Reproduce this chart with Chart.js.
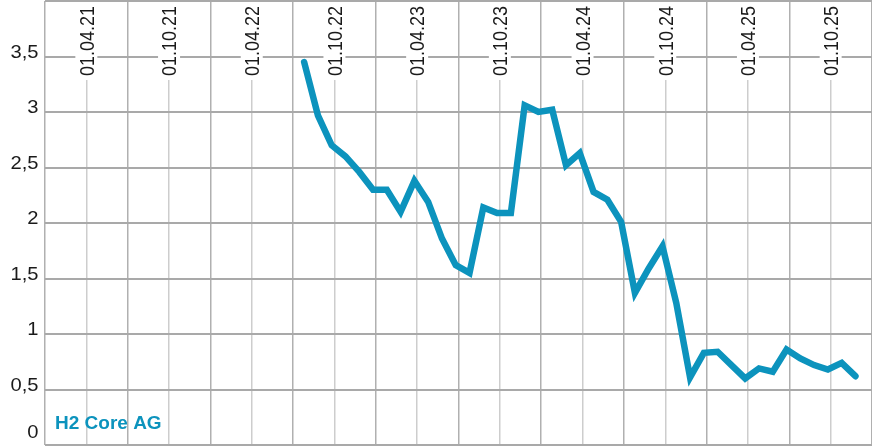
<!DOCTYPE html>
<html>
<head>
<meta charset="utf-8">
<script src="https://cdn.jsdelivr.net/npm/chart.js@4.4.1/dist/chart.umd.min.js"></script>
<style>
  body { margin: 0; background: #fff; }
  #wrap { width: 872px; height: 446px; position: relative; }
</style>
</head>
<body>
<div id="wrap"><canvas id="chart"></canvas></div>
<script>
// Monthly closing dates (dd.mm.yy)
const dates = [
    "25.07.22", "25.08.22", "25.09.22", "25.10.22", "25.11.22", "25.12.22",
    "25.01.23", "25.02.23", "25.03.23", "25.04.23", "25.05.23", "25.06.23",
    "25.07.23", "25.08.23", "25.09.23", "25.10.23", "25.11.23", "25.12.23",
    "25.01.24", "25.02.24", "25.03.24", "25.04.24", "25.05.24", "25.06.24",
    "25.07.24", "25.08.24", "25.09.24", "25.10.24", "25.11.24", "25.12.24",
    "25.01.25", "25.02.25", "25.03.25", "25.04.25", "25.05.25", "25.06.25",
    "25.07.25", "25.08.25", "25.09.25", "25.10.25", "25.11.25"
];
const prices = [
    3.45, 2.97, 2.70, 2.60, 2.46, 2.30,
    2.30, 2.10, 2.38, 2.19, 1.86, 1.62,
    1.55, 2.14, 2.09, 2.09, 3.06, 3.00,
    3.02, 2.52, 2.63, 2.28, 2.21, 2.01,
    1.37, 1.59, 1.79, 1.28, 0.61, 0.83,
    0.84, 0.72, 0.60, 0.69, 0.66, 0.86,
    0.78, 0.72, 0.68, 0.74, 0.62
];
const xTickLabels = ["01.04.21", "01.10.21", "01.04.22", "01.10.22", "01.04.23",
                     "01.10.23", "01.04.24", "01.10.24", "01.04.25", "01.10.25"];
const yTickLabels = ["0", "0,5", "1", "1,5", "2", "2,5", "3", "3,5"];
const seriesName = "H2 Core AG";

const BLUE = "#0c93bd";
const STRETCH = 1.12; // the original lettering is a bit wide

// months since 01.01.21
function toMonths(s) {
    let [d, m, y] = s.split(".").map(Number);
    return (y - 21) * 12 + (m - 1) + (d - 1) / 30;
}
function monthLabel(v) {
    let y = 21 + Math.floor(v / 12);
    let m = v % 12 + 1;
    return "01." + String(m).padStart(2, "0") + "." + y;
}

const points = dates.map((d, i) => ({ x: toMonths(d), y: prices[i] }));

const labelPlugin = {
    id: "labels",
    beforeDatasetsDraw(chart) {
        const ctx = chart.ctx;
        const xs = chart.scales.x;
        const ys = chart.scales.y;
        ctx.save();

        // date labels inside the plot, rotated
        ctx.font = "18px 'Liberation Sans', Arial, sans-serif";
        xs.ticks.forEach(t => {
            let lbl = monthLabel(t.value);
            if (!xTickLabels.includes(lbl)) return;
            let px = xs.getPixelForValue(t.value);
            ctx.fillStyle = "#fff";
            ctx.fillRect(px - 11, chart.chartArea.top + 1, 22, 78);
            ctx.fillStyle = "#1a1a1a";
            ctx.save();
            ctx.translate(px, 76);
            ctx.scale(STRETCH, 1);
            ctx.rotate(-Math.PI / 2);
            ctx.textAlign = "left";
            ctx.textBaseline = "alphabetic";
            ctx.fillText(lbl, 0, 6.5);
            ctx.restore();
        });

        // value labels on the left, sitting on their lines
        ctx.fillStyle = "#1a1a1a";
        ys.ticks.forEach(t => {
            let lbl = yTickLabels[Math.round(t.value * 2)];
            if (lbl === undefined) return;
            let py = ys.getPixelForValue(t.value);
            if (t.value === 0) py -= 8;
            ctx.save();
            ctx.translate(38.5, py + 1);
            ctx.scale(STRETCH, 1);
            ctx.textAlign = "right";
            ctx.textBaseline = "alphabetic";
            ctx.fillText(lbl, 0, 0);
            ctx.restore();
        });

        // series name
        ctx.font = "bold 19px 'Liberation Sans', Arial, sans-serif";
        ctx.fillStyle = BLUE;
        ctx.textAlign = "left";
        ctx.textBaseline = "alphabetic";
        ctx.fillText(seriesName, 55, 429);
        ctx.restore();
    }
};

new Chart(document.getElementById("chart"), {
    type: "line",
    data: {
        datasets: [{
            label: seriesName,
            data: points,
            borderColor: BLUE,
            borderWidth: 6.5,
            borderCapStyle: "round",
            borderJoinStyle: "miter",
            pointRadius: 0,
            tension: 0,
            fill: false
        }]
    },
    options: {
        responsive: true,
        maintainAspectRatio: false,
        animation: false,
        layout: { padding: { left: 45, right: 0, top: 1, bottom: 1 } },
        plugins: { legend: { display: false }, tooltip: { enabled: false } },
        scales: {
            x: {
                type: "linear",
                min: 0,
                max: 60,
                ticks: { display: false, stepSize: 3, maxTicksLimit: 100 },
                border: { display: false },
                grid: {
                    drawTicks: false,
                    lineWidth: 1.5,
                    color: c => (c.tick && c.tick.value % 6 === 3) ? "#cdcdcd" : "#b0b0b0"
                }
            },
            y: {
                min: 0,
                max: 4,
                ticks: { display: false, stepSize: 0.5 },
                border: { display: false },
                grid: { drawTicks: false, lineWidth: 2, color: "#a9a9a9" }
            }
        }
    },
    plugins: [labelPlugin]
});
</script>
</body>
</html>
